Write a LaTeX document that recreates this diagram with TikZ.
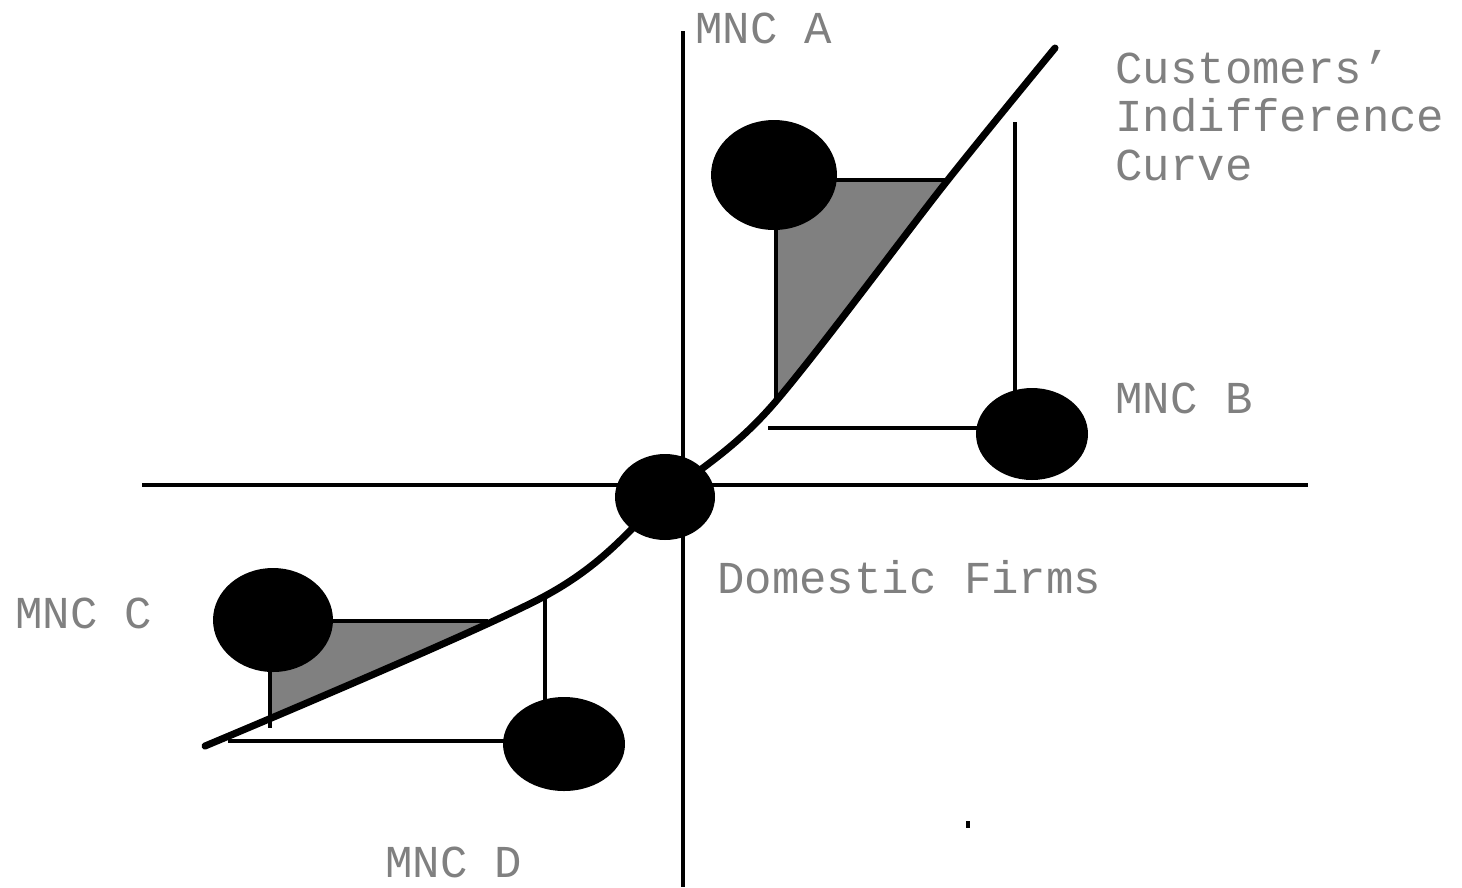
\documentclass[tikz,border=0pt]{standalone}
\usepackage{fontspec}
\newfontfamily\labelfont{Liberation Mono}
\usetikzlibrary{shapes.geometric}
\definecolor{labelgray}{RGB}{128,128,128}
\definecolor{shadegray}{RGB}{128,128,128}

\begin{document}
\begin{tikzpicture}[
  x=0.02cm, y=-0.02cm,
  firm/.style={ellipse, fill=black, draw=none, inner sep=0pt},
  lbl/.style={anchor=base west, inner sep=0pt, text=labelgray,
    font=\labelfont\fontsize{26}{27.4}\selectfont},
  axis/.style={line width=2.3pt},
  link/.style={line width=1.9pt},
  curveline/.style={line width=4pt, line cap=round}
]
  \useasboundingbox (0,0) rectangle (1462,887);

  % shaded gaps between the firms and the curve
  \begin{scope}
    \clip (776,180) rectangle (1100,420);
    \fill[shadegray] plot[smooth] coordinates {(205,746) (545,596) (665,497) (770,408) (947,181) (1055,48)}
      -- (205,0) -- cycle;
  \end{scope}
  \begin{scope}
    \clip (270,621) rectangle (520,740);
    \fill[shadegray] plot[smooth] coordinates {(205,746) (545,596) (665,497) (770,408) (947,181) (1055,48)}
      -- (205,0) -- cycle;
  \end{scope}

  % axes
  \coordinate (west) at (142,485);
  \coordinate (east) at (1308,485);
  \coordinate (north) at (683,31);
  \coordinate (south) at (683,887);
  \draw[axis] (west) -- (east);
  \draw[axis] (north) -- (south);

  % firms
  \node[firm, minimum width=2.52cm, minimum height=2.2cm] (mncA) at (774,175) {};
  \node[firm, minimum width=2.24cm, minimum height=1.84cm] (mncB) at (1032,434) {};
  \node[firm, minimum width=2.0cm, minimum height=1.72cm] (dom) at (665,497) {};
  \node[firm, minimum width=2.4cm, minimum height=2.08cm] (mncC) at (273,620) {};
  \node[firm, minimum width=2.44cm, minimum height=1.88cm] (mncD) at (564,744) {};

  % points on the curve
  \coordinate (a1) at (776,404);
  \coordinate (a2) at (948,180);
  \coordinate (b1) at (1015,122);
  \coordinate (b2) at (768,428);
  \coordinate (c1) at (270,728);
  \coordinate (c2) at (488,621);
  \coordinate (d1) at (545,598);
  \coordinate (d2) at (228,741);

  \draw[link] (a1 |- mncA) -- (a1);
  \draw[link] (mncA |- a2) -- (a2);
  \draw[link] (b1) -- (b1 |- mncB);
  \draw[link] (b2) -- (b2 -| mncB);
  \draw[link] (c1 |- mncC) -- (c1);
  \draw[link] (mncC |- c2) -- (c2);
  \draw[link] (d1) -- (d1 |- mncD);
  \draw[link] (d2) -- (d2 -| mncD);

  % indifference curve
  \draw[curveline] plot[smooth] coordinates {(205,746) (545,596) (665,497) (770,408) (947,181) (1055,48)};

  % stray mark
  \fill (966,821) rectangle (970,828);

  % labels
  \node[lbl] (labA) at (695,43) {MNC A};
  \node[lbl] (labB) at (1115,413) {MNC B};
  \node[lbl] (labC) at (15,628) {MNC C};
  \node[lbl] (labD) at (385,877) {MNC D};
  \node[lbl] (labDom) at (717,593) {Domestic Firms};
  \node[lbl, align=left] (labCurve) at (1115,180) {Customers’\\Indifference\\Curve};
\end{tikzpicture}
\end{document}
